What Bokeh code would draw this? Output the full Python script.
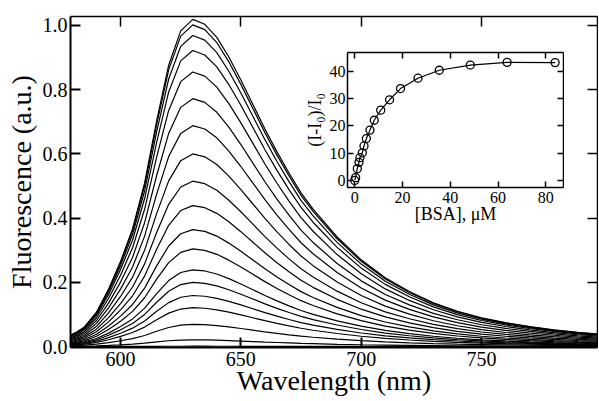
import numpy as np
from bokeh.plotting import figure
from bokeh.models import LinearAxis, FixedTicker, Range1d, PrintfTickFormatter
from bokeh.layouts import column
from bokeh.embed import file_html
from bokeh.resources import INLINE

# ---- main spectra data ----
wavelength = [579, 582, 585, 590, 595, 600, 605, 610, 615, 620, 625, 630, 635,
              640, 645, 650, 655, 660, 665, 670, 675, 680, 690, 700, 710, 720,
              730, 740, 750, 760, 770, 780, 790, 799]
# normalised emission profile (top curve divided by its peak)
profile = [0.034, 0.045, 0.06, 0.105, 0.175, 0.26, 0.36, 0.50, 0.69, 0.86,
           0.965, 1.0, 0.985, 0.945, 0.885, 0.815, 0.74, 0.665, 0.595, 0.53,
           0.47, 0.42, 0.335, 0.265, 0.21, 0.168, 0.134, 0.108, 0.088, 0.073,
           0.061, 0.051, 0.043, 0.038]
# peak intensity of each spectrum
peak_heights = [1.019, 1.002, 0.969, 0.922, 0.855, 0.772, 0.688, 0.600, 0.515,
                0.439, 0.364, 0.304, 0.239, 0.200, 0.159, 0.121, 0.069, 0.021,
                0.001]

x_ticks = [600, 650, 700, 750]
y_ticks = [0.0, 0.2, 0.4, 0.6, 0.8, 1.0]

# ---- inset titration data ----
bsa = [0, 0.4, 1.1, 1.8, 2.2, 3.2, 3.9, 4.9, 6.4, 8.2, 10.9, 14.6, 19.2, 26.5,
       35.4, 48.4, 63.8, 83.9]
ratio = [0, 1.0, 4.3, 6.6, 8.3, 10.1, 12.6, 15.3, 18.4, 22.0, 25.7, 29.5, 33.6,
         37.4, 40.3, 42.2, 43.2, 43.1]
inset_x_ticks = [0, 20, 40, 60, 80]
inset_y_ticks = [0, 10, 20, 30, 40]

FONT = "Liberation Serif"


def style_axis(ax, ticks, tick_len, size, labels=True, width=1.5):
    ax.ticker = FixedTicker(ticks=ticks, minor_ticks=[])
    ax.major_tick_in = tick_len
    ax.major_tick_out = 0
    ax.minor_tick_line_color = None
    ax.axis_line_width = width
    ax.axis_line_color = "black"
    ax.major_tick_line_width = width
    ax.major_tick_line_color = "black"
    ax.major_label_text_font = FONT
    ax.major_label_text_font_size = size
    ax.major_label_text_color = "black"
    ax.axis_label_text_font = FONT
    ax.axis_label_text_font_style = "normal"
    ax.axis_label_text_color = "black"
    if not labels:
        ax.major_label_overrides = {t: "" for t in ticks}
        ax.major_label_standoff = 0


p = figure(width=598, height=400, x_range=Range1d(579.2, 798.2),
           y_range=Range1d(-0.003, 1.028), output_backend="svg",
           toolbar_location=None, min_border_left=70, min_border_right=1,
           min_border_top=16, min_border_bottom=53)
p.outline_line_color = None
p.grid.grid_line_color = None
p.background_fill_color = "white"
p.border_fill_color = "white"

wl = np.array(wavelength)
prof = np.array(profile)
for h in peak_heights:
    p.line(wl, prof * h, line_color="black", line_width=1.2)

style_axis(p.xaxis[0], x_ticks, 10, "20px", width=2)
style_axis(p.yaxis[0], y_ticks, 10, "20px", width=2)
p.yaxis[0].formatter = PrintfTickFormatter(format="%.1f")
p.xaxis[0].major_label_standoff = 4
p.yaxis[0].major_label_standoff = 3
p.xaxis[0].axis_label = "Wavelength (nm)"
p.yaxis[0].axis_label = "Fluorescence (a.u.)"
p.xaxis[0].axis_label_text_font_size = "28px"
p.yaxis[0].axis_label_text_font_size = "28px"
p.xaxis[0].axis_label_standoff = -4
p.yaxis[0].axis_label_standoff = 3

top = LinearAxis()
style_axis(top, x_ticks, 10, "20px", labels=False)
p.add_layout(top, "above")
right = LinearAxis()
style_axis(right, y_ticks, 10, "20px", labels=False)
p.add_layout(right, "right")

# ---- inset ----
q = figure(width=287, height=183, x_range=Range1d(-3, 87.4),
           y_range=Range1d(-2.6, 46.8), output_backend="svg",
           toolbar_location=None, min_border_left=70, min_border_right=1,
           min_border_top=2, min_border_bottom=46)
q.outline_line_color = None
q.grid.grid_line_color = None
q.background_fill_color = "white"
q.border_fill_color = None
q.line(bsa, ratio, line_color="black", line_width=1.2)
q.scatter(bsa, ratio, marker="circle", size=8, fill_color=None,
          line_color="black", line_width=1.3)

style_axis(q.xaxis[0], inset_x_ticks, 6, "16px")
style_axis(q.yaxis[0], inset_y_ticks, 6, "16px")
q.xaxis[0].major_label_standoff = 4
q.yaxis[0].major_label_standoff = 2
q.xaxis[0].axis_label = "[BSA], μM"
q.yaxis[0].axis_label = "(I-I₀)/I₀"
q.xaxis[0].axis_label_text_font_size = "18px"
q.yaxis[0].axis_label_text_font_size = "18px"
q.xaxis[0].axis_label_standoff = -2
q.yaxis[0].axis_label_standoff = 2
qt = LinearAxis()
style_axis(qt, inset_x_ticks, 6, "16px", labels=False)
q.add_layout(qt, "above")
qr = LinearAxis()
style_axis(qr, inset_y_ticks, 6, "16px", labels=False)
q.add_layout(qr, "right")

q.styles = {"position": "absolute", "left": "277px", "top": "50px", "z-index": "2"}

layout = column(p, q)
open("out.html", "w").write(file_html(layout, INLINE))
